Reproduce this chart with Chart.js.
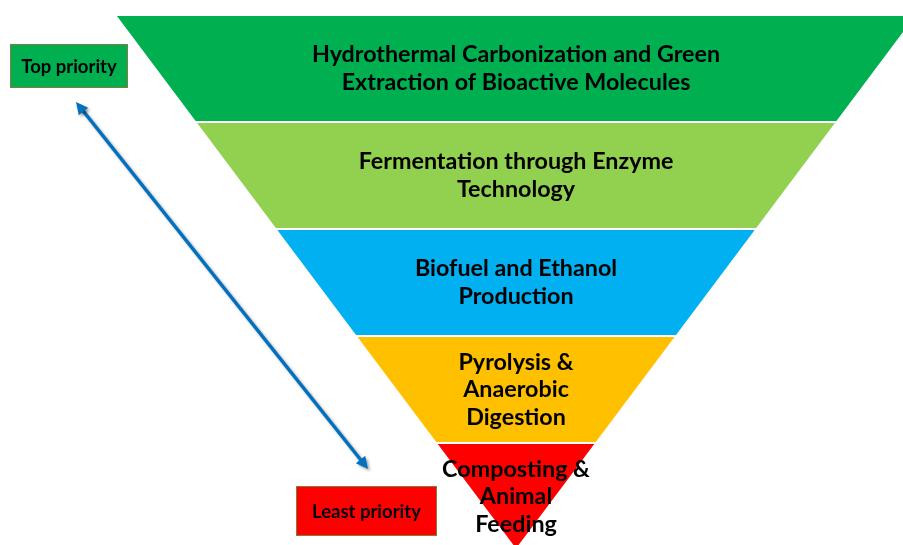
<!DOCTYPE html>
<html>
<head>
<meta charset="utf-8">
<script src="https://cdn.jsdelivr.net/npm/chart.js@4.4.1/dist/chart.umd.min.js"></script>
<style>
  html, body { margin: 0; padding: 0; background: #fff; }
  #wrap { width: 903px; height: 545px; position: relative; }
</style>
</head>
<body>
<div id="wrap"><canvas id="funnel" width="903" height="545"></canvas></div>
<script>
// levels of the priority funnel, top (highest priority) to bottom
const levels = [
  'Hydrothermal Carbonization and Green Extraction of Bioactive Molecules',
  'Fermentation through Enzyme Technology',
  'Biofuel and Ethanol Production',
  'Pyrolysis & Anaerobic Digestion',
  'Composting & Animal Feeding'
];
const levelLines = [
  ['Hydrothermal Carbonization and Green', 'Extraction of Bioactive Molecules'],
  ['Fermentation through Enzyme', 'Technology'],
  ['Biofuel and Ethanol', 'Production'],
  ['Pyrolysis &', 'Anaerobic', 'Digestion'],
  ['Composting &', 'Animal', 'Feeding']
];
// rank of each level's top edge and bottom edge (width of funnel = rank)
const topRank = [5, 4, 3, 2, 1];
const bottomRank = [4, 3, 2, 1, 0];
const priorityLabels = ['Top priority', 'Least priority'];

const colors = ['#00B050', '#92D050', '#00B0F0', '#FFC000', '#FF0000'];
const FONT = 'Lato, "Open Sans", sans-serif';

const datasets = levels.map(function (name, i) {
  const t = topRank[i], b = bottomRank[i];
  return {
    label: name,
    data: [
      { x: -t, y: t }, { x: t, y: t },
      { x: b, y: b }, { x: -b, y: b }, { x: -t, y: t }
    ],
    backgroundColor: colors[i],
    borderColor: '#ffffff',
    borderWidth: 2,
    fill: 'shape',
    tension: 0,
    pointRadius: 0,
    clip: false
  };
});

const labelPlugin = {
  id: 'funnelLabels',
  afterDatasetsDraw(chart) {
    const ctx = chart.ctx;
    const xs = chart.scales.x, ys = chart.scales.y;
    ctx.save();
    ctx.fillStyle = '#000';
    ctx.textAlign = 'center';
    ctx.textBaseline = 'middle';
    ctx.font = 'bold 23.3px ' + FONT;
    levelLines.forEach(function (lines, i) {
      const cy = (ys.getPixelForValue(topRank[i]) + ys.getPixelForValue(bottomRank[i])) / 2;
      const cx = xs.getPixelForValue(0);
      const lh = 27.5;
      lines.forEach(function (line, j) {
        ctx.fillText(line, cx, cy + (j - (lines.length - 1) / 2) * lh);
      });
    });

    // priority arrow
    const x1 = 76, y1 = 102, x2 = 368, y2 = 469;
    const ang = Math.atan2(y2 - y1, x2 - x1);
    ctx.shadowColor = 'rgba(0,0,0,0.35)';
    ctx.shadowOffsetX = 2;
    ctx.shadowOffsetY = 2;
    ctx.shadowBlur = 3;
    ctx.strokeStyle = '#0070C0';
    ctx.fillStyle = '#0070C0';
    ctx.lineWidth = 3.5;
    ctx.beginPath();
    ctx.moveTo(x1 + 8 * Math.cos(ang), y1 + 8 * Math.sin(ang));
    ctx.lineTo(x2 - 8 * Math.cos(ang), y2 - 8 * Math.sin(ang));
    ctx.stroke();
    [[x1, y1, ang + Math.PI], [x2, y2, ang]].forEach(function (h) {
      const a = h[2];
      ctx.beginPath();
      ctx.moveTo(h[0], h[1]);
      ctx.lineTo(h[0] - 12 * Math.cos(a) + 6 * Math.sin(a), h[1] - 12 * Math.sin(a) - 6 * Math.cos(a));
      ctx.lineTo(h[0] - 12 * Math.cos(a) - 6 * Math.sin(a), h[1] - 12 * Math.sin(a) + 6 * Math.cos(a));
      ctx.closePath();
      ctx.fill();
    });
    ctx.shadowColor = 'transparent';

    // priority boxes
    const boxes = [
      { x: 10, y: 44, w: 118, h: 44, fill: '#00B050' },
      { x: 296, y: 486, w: 141, h: 50, fill: '#FF0000' }
    ];
    boxes.forEach(function (bx, i) {
      ctx.fillStyle = bx.fill;
      ctx.fillRect(bx.x, bx.y, bx.w, bx.h);
      ctx.strokeStyle = '#8a7a3a';
      ctx.lineWidth = 1;
      ctx.strokeRect(bx.x + 0.5, bx.y + 0.5, bx.w - 1, bx.h - 1);
      ctx.fillStyle = '#000';
      ctx.font = 'bold 18.5px ' + FONT;
      ctx.fillText(priorityLabels[i], bx.x + bx.w / 2, bx.y + bx.h / 2 + 1);
    });
    ctx.restore();
  }
};

new Chart(document.getElementById('funnel'), {
  type: 'line',
  data: { datasets: datasets },
  options: {
    responsive: false,
    animation: false,
    layout: { padding: 0 },
    plugins: { legend: { display: false }, tooltip: { enabled: false } },
    scales: {
      x: { type: 'linear', display: false, min: -6.434, max: 4.825 },
      y: { type: 'linear', display: false, min: 0.047, max: 5.14 }
    }
  },
  plugins: [labelPlugin]
});
</script>
</body>
</html>
